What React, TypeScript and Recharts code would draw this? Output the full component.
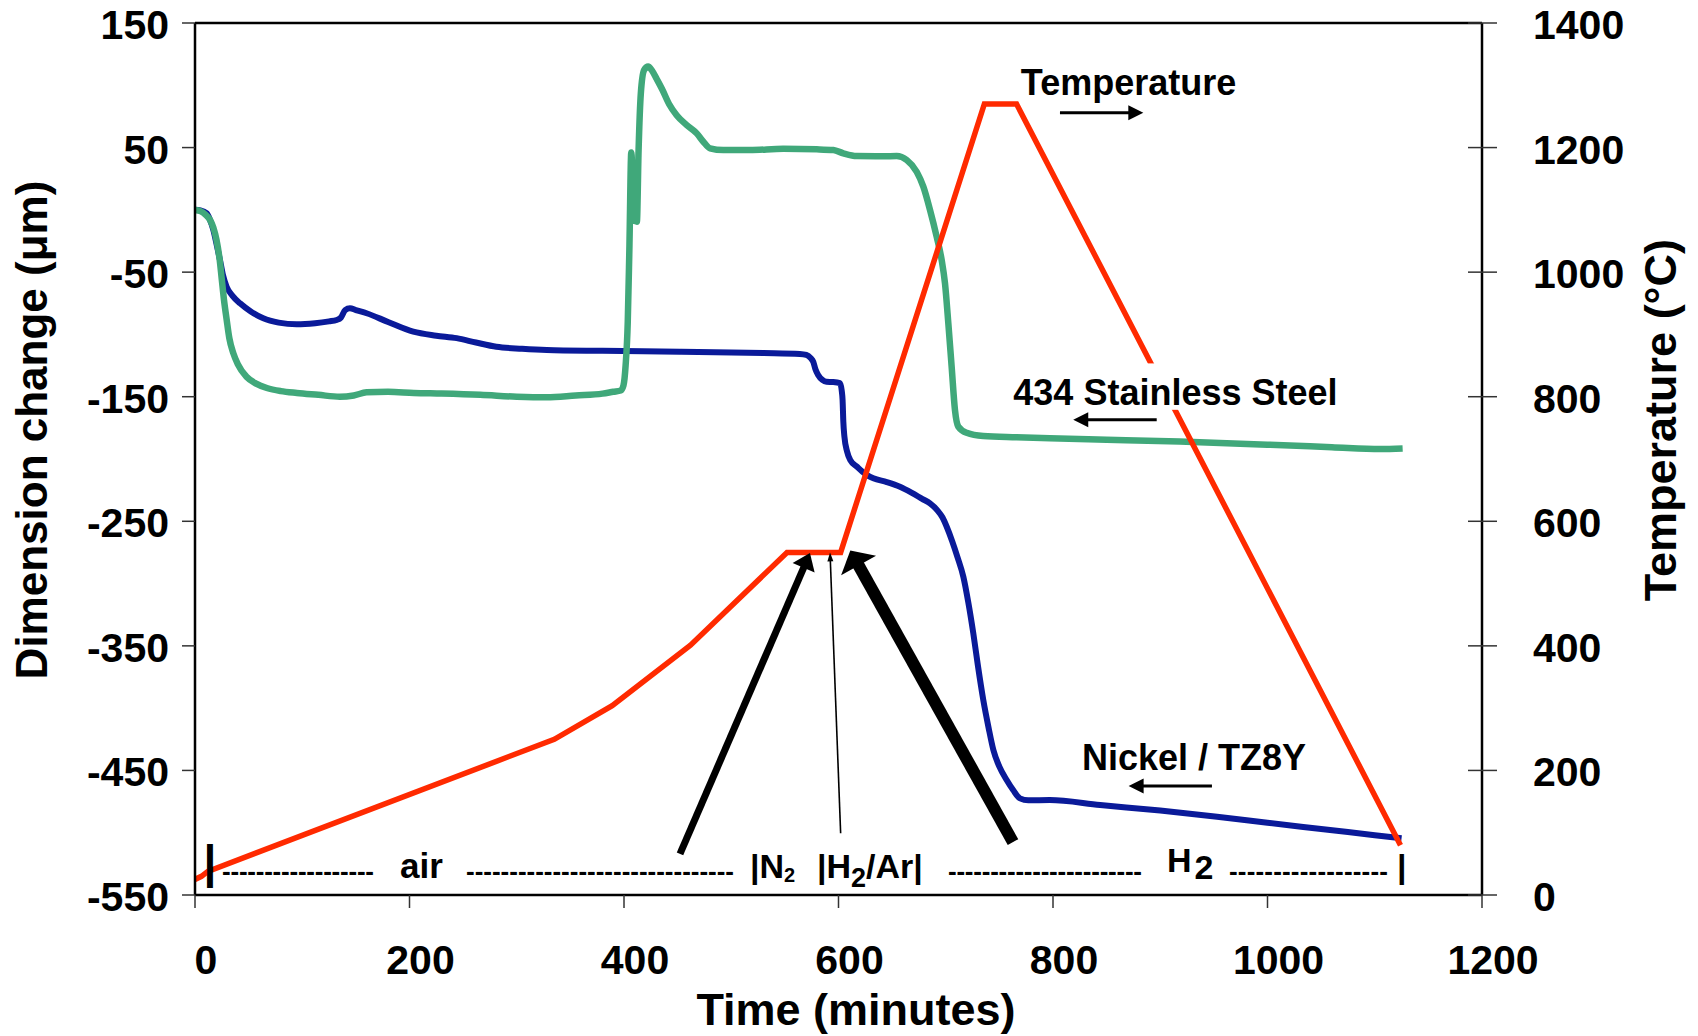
import React from 'react';
import { LineChart, Line, XAxis, YAxis, ReferenceLine, ReferenceDot } from 'recharts';

const FONT = '"Liberation Sans", Arial, Helvetica, sans-serif';

// Chart frame
const W = 1698;
const H = 1036;
const PLOT = { left: 195, right: 1482, top: 23, bottom: 895 };

// Axis ticks
const timeTicks = [0, 200, 400, 600, 800, 1000, 1200];
const dimTicks = [-550, -450, -350, -250, -150, -50, 50, 150];
const tempTicks = [0, 200, 400, 600, 800, 1000, 1200, 1400];

// Furnace temperature program (minutes, °C)
const tempTime = [0, 6, 12, 335, 389, 462, 552, 602, 736, 766, 1124];
const tempC = [25, 30, 38, 250, 304, 401, 550, 550, 1270, 1270, 80];

// Nickel / TZ8Y dimension change (minutes, µm)
const nickelTime = [
  0, 5, 10.9, 14, 17.1, 20, 23.3, 26, 29.5, 35, 42, 52, 63.7, 78, 94.8, 112, 125, 132, 136, 140,
  144.5, 150, 160, 180, 203.5, 225, 244, 262, 281, 305, 328, 380, 452, 500, 530, 564, 570, 574,
  576.5, 578.5, 581, 585, 588.8, 595, 601.4, 603, 603.8, 604.5, 605.5, 608, 611, 617, 625, 632.5,
  645, 657.3, 668, 678, 685.3, 692, 697, 700.9, 706, 711, 716.4, 721, 725.7, 730, 735, 740, 744.4,
  750, 756.8, 763, 769.2, 777, 797, 844, 900, 953, 1000, 1050, 1100, 1125,
];
const nickelDim = [
  0, -0.5, -2.8, -8, -16.2, -27, -40.3, -52, -61.7, -69, -75, -81.5, -87, -90.5, -91.9, -91, -89.5,
  -88.4, -86.5, -80.5, -79, -80.5, -83, -90, -97.8, -101, -103, -106.5, -109.9, -111.5, -112.5,
  -113.2, -113.9, -114.5, -115, -115.7, -116.5, -119, -122, -128, -132.5, -136.5, -138, -138.2,
  -139, -145, -152.6, -170, -182, -194, -201, -206, -212, -215.5, -218.5, -222.3, -227, -232,
  -235.6, -241, -247, -254.4, -266, -279, -294.5, -315, -340, -366, -393.5, -416, -433.6, -447,
  -457.7, -466, -472.4, -474, -473.8, -477.8, -482.2, -487.2, -492, -497, -502, -504.5,
];

// 434 stainless steel dimension change (minutes, µm)
const steelTime = [
  0, 5, 10, 14, 17, 20, 23, 25, 27, 29.5, 32, 35.7, 40, 48, 57, 67, 80, 95, 115, 135, 148, 160, 180,
  204, 230, 266, 300, 328, 355, 380, 390, 397, 399.5, 401.5, 403.5, 405, 406.8, 409.3, 412, 413.6,
  415.7, 418.8, 422.5, 426, 430.5, 436, 442, 449.1, 458.5, 467.8, 474, 480.2, 492.6, 517.5,
  548.5, 579.7, 595.2, 604.5, 617, 641.8, 654.3, 663.6, 672.9, 679.1, 685.3, 691.5, 696.2, 699.3,
  702.4, 705.5, 708.6, 711.7, 719.5, 735, 766, 797, 850, 918, 1000, 1060, 1105, 1126,
];
const steelDim = [
  0, -1, -4, -8, -14, -24, -40, -56, -72, -88, -103, -115, -124, -134, -139.5, -143, -145.5, -147,
  -148.5, -150, -149, -146.5, -146, -147, -147.5, -148.5, -150, -150.5, -149, -147.5, -146, -145,
  -141, -125, -90, -32, 46, -8, -9.5, 48, 93.6, 112.3, 115, 112, 105, 96, 85, 76, 68, 61.4, 54.7,
  49.4, 48, 48, 49, 48.6, 48, 45.4, 43.2, 43, 43.2, 40, 30.6, 18.6, 0, -21.5, -40.3, -59, -91, -126,
  -160.7, -174, -179, -181.6, -182.6, -183.4, -184.5, -186, -188.5, -190.5, -192, -191.5,
];

const zip = (ts: number[], vs: number[]) => ts.map((t, i) => ({ t, v: vs[i] }));
const tempData = zip(tempTime, tempC);
const nickelData = zip(nickelTime, nickelDim);
const steelData = zip(steelTime, steelDim);

const COLORS = { temp: '#FF2A00', nickel: '#0A1A99', steel: '#40A87A' };

// Series captions, placed in (minutes, °C) and drawn from their baseline start
const captionText = ['Temperature', '434 Stainless Steel', 'Nickel / TZ8Y'];
const captionTime = [770, 763, 827];
const captionTemp = [1284, 787, 201];
// the steel caption sits on a white patch so the temperature line breaks behind it
const captionBackdrop = [false, true, false];

// Caption arrows: tail -> tip, (minutes, °C)
const captionArrows = [
  { from: [806.5, 1256], to: [884.2, 1256] },
  { from: [896.7, 763], to: [818.9, 763] },
  { from: [948.2, 175], to: [870.5, 175] },
];

// Gas-switch arrows pointing at the 550 °C hold
const gasArrows = [
  { from: [452.2, 66], to: [573.4, 549], shaft: 7, head: 16, spread: 24 },
  { from: [602.0, 99], to: [592.1, 550], shaft: 1.6, head: 9, spread: 6 },
  { from: [762.7, 85], to: [611.0, 553], shaft: 12, head: 17, spread: 40 },
];

// Atmosphere row along the bottom of the plot
const rowBaseC = 27.3;
const dashRuns = [
  [25.2, 166.9],
  [252.7, 502.6],
  [702.1, 883.0],
  [964.1, 1112.3],
];
const dashC = 24;

function arrowShape(shaft: number, headLen: number, headWidth: number) {
  return (p: any) => {
    const { x1, y1, x2, y2 } = p;
    const dx = x2 - x1;
    const dy = y2 - y1;
    const len = Math.hypot(dx, dy) || 1;
    const ux = dx / len;
    const uy = dy / len;
    const bx = x2 - ux * headLen;
    const by = y2 - uy * headLen;
    const nx = (-uy * headWidth) / 2;
    const ny = (ux * headWidth) / 2;
    return (
      <g>
        <line x1={x1} y1={y1} x2={bx + ux} y2={by + uy} stroke="#000" strokeWidth={shaft} />
        <polygon points={`${x2},${y2} ${bx + nx},${by + ny} ${bx - nx},${by - ny}`} fill="#000" />
      </g>
    );
  };
}

const dashShape = (p: any) => {
  const x0 = Math.min(p.x1, p.x2);
  const len = Math.abs(p.x2 - p.x1);
  const n = Math.max(1, Math.round(len / 8.6));
  return (
    <text
      x={x0}
      y={p.y1}
      textLength={len}
      lengthAdjust="spacing"
      fontFamily={FONT}
      fontWeight={700}
      fontSize={26}
      fill="#000"
    >
      {'-'.repeat(n)}
    </text>
  );
};

const textShape = (content: React.ReactNode, size: number, backdrop = false) => (p: any) => (
  <g>
    {backdrop && (
      <rect x={p.cx - 4} y={p.cy - size * 1.15} width={size * 9.2} height={size * 1.15 + 5} fill="#fff" />
    )}
    <text x={p.cx} y={p.cy} fontFamily={FONT} fontWeight={700} fontSize={size} fill="#000">
      {content}
    </text>
  </g>
);

const XTick = (p: any) => (
  <text x={p.x + 11} y={p.y + 66} textAnchor="middle" fontFamily={FONT} fontWeight={700} fontSize={41} fill="#000">
    {p.payload.value}
  </text>
);

const LeftTick = (p: any) => (
  <text x={p.x} y={p.y + 16} textAnchor="end" fontFamily={FONT} fontWeight={700} fontSize={41} fill="#000">
    {p.payload.value}
  </text>
);

const RightTick = (p: any) => (
  <g>
    <line x1={p.x - 65} x2={p.x - 36} y1={p.y} y2={p.y} stroke="#333" strokeWidth={1.5} />
    <text x={p.x} y={p.y + 16} textAnchor="start" fontFamily={FONT} fontWeight={700} fontSize={41} fill="#000">
      {p.payload.value}
    </text>
  </g>
);

export default function App() {
  const rowItems: { t: number; c: number; size: number; content: React.ReactNode }[] = [
    { t: 8, c: rowBaseC, size: 46, content: '|' },
    { t: 191.1, c: rowBaseC, size: 35, content: 'air' },
    {
      t: 517.5,
      c: rowBaseC,
      size: 34,
      content: (
        <>
          |N<tspan fontSize={20} dy={4}>2</tspan>
        </>
      ),
    },
    {
      t: 579.9,
      c: rowBaseC,
      size: 34,
      content: (
        <>
          |H<tspan fontSize={27} dy={9}>2</tspan>
          <tspan dy={-9}>/Ar|</tspan>
        </>
      ),
    },
    {
      t: 906.3,
      c: 36.9,
      size: 34,
      content: (
        <>
          H<tspan dx={3} dy={7}>2</tspan>
        </>
      ),
    },
    { t: 1120.7, c: rowBaseC, size: 34, content: '|' },
  ];

  return (
    <div style={{ position: 'fixed', left: 0, top: 0, width: W, height: H, background: '#fff' }}>
      <LineChart width={W} height={H} margin={{ top: PLOT.top, right: 0, bottom: 0, left: 0 }}>
        <XAxis
          dataKey="t"
          type="number"
          domain={[0, 1200]}
          ticks={timeTicks}
          allowDataOverflow
          height={H - PLOT.bottom}
          axisLine={{ stroke: '#000', strokeWidth: 2.5 }}
          tickLine={{ stroke: '#333', strokeWidth: 1.5 }}
          tickSize={13}
          tickMargin={0}
          tick={XTick}
          label={() => (
            <text x={856} y={1025} textAnchor="middle" fontFamily={FONT} fontWeight={700} fontSize={45} fill="#000">
              Time (minutes)
            </text>
          )}
        />
        <YAxis
          yAxisId="dim"
          orientation="left"
          type="number"
          domain={[-550, 150]}
          ticks={dimTicks}
          allowDataOverflow
          width={PLOT.left}
          axisLine={{ stroke: '#000', strokeWidth: 2.5 }}
          tickLine={{ stroke: '#333', strokeWidth: 1.5 }}
          tickSize={13}
          tickMargin={13}
          tick={LeftTick}
          label={() => (
            <text
              x={47}
              y={430}
              transform="rotate(-90, 47, 430)"
              textAnchor="middle"
              fontFamily={FONT}
              fontWeight={700}
              fontSize={44}
              fill="#000"
            >
              Dimension change (μm)
            </text>
          )}
        />
        <YAxis
          yAxisId="temp"
          orientation="right"
          type="number"
          domain={[0, 1400]}
          ticks={tempTicks}
          allowDataOverflow
          width={W - PLOT.right}
          axisLine={{ stroke: '#000', strokeWidth: 2.5 }}
          tickLine={false}
          tickSize={15}
          tickMargin={36}
          tick={RightTick}
          label={() => (
            <text
              x={1676}
              y={420}
              transform="rotate(-90, 1676, 420)"
              textAnchor="middle"
              fontFamily={FONT}
              fontWeight={700}
              fontSize={45}
              fill="#000"
            >
              Temperature (°C)
            </text>
          )}
        />

        {/* top edge of the frame */}
        <ReferenceLine yAxisId="dim" y={150} stroke="#000" strokeWidth={2.5} />

        <Line
          data={nickelData}
          yAxisId="dim"
          dataKey="v"
          type="monotoneX"
          stroke={COLORS.nickel}
          strokeWidth={6}
          dot={false}
          activeDot={false}
          isAnimationActive={false}
        />
        <Line
          data={steelData}
          yAxisId="dim"
          dataKey="v"
          type="monotoneX"
          stroke={COLORS.steel}
          strokeWidth={6.5}
          dot={false}
          activeDot={false}
          isAnimationActive={false}
        />
        <Line
          data={tempData}
          yAxisId="temp"
          dataKey="v"
          type="linear"
          stroke={COLORS.temp}
          strokeWidth={5.5}
          strokeLinejoin="miter"
          dot={false}
          activeDot={false}
          isAnimationActive={false}
        />

        {gasArrows.map((a, i) => (
          <ReferenceLine
            key={`gas-${i}`}
            yAxisId="temp"
            segment={[
              { x: a.from[0], y: a.from[1] },
              { x: a.to[0], y: a.to[1] },
            ]}
            shape={arrowShape(a.shaft, a.head, a.spread)}
          />
        ))}

        {captionText.map((txt, i) => (
          <ReferenceDot
            key={`cap-${i}`}
            yAxisId="temp"
            x={captionTime[i]}
            y={captionTemp[i]}
            r={0}
            shape={textShape(txt, 36, captionBackdrop[i])}
          />
        ))}

        {captionArrows.map((a, i) => (
          <ReferenceLine
            key={`cap-arrow-${i}`}
            yAxisId="temp"
            segment={[
              { x: a.from[0], y: a.from[1] },
              { x: a.to[0], y: a.to[1] },
            ]}
            shape={arrowShape(3, 15, 15)}
          />
        ))}

        {dashRuns.map((d, i) => (
          <ReferenceLine
            key={`dash-${i}`}
            yAxisId="temp"
            segment={[
              { x: d[0], y: dashC },
              { x: d[1], y: dashC },
            ]}
            shape={dashShape}
          />
        ))}

        {rowItems.map((it, i) => (
          <ReferenceDot
            key={`row-${i}`}
            yAxisId="temp"
            x={it.t}
            y={it.c}
            r={0}
            shape={textShape(it.content, it.size)}
          />
        ))}
      </LineChart>
    </div>
  );
}
